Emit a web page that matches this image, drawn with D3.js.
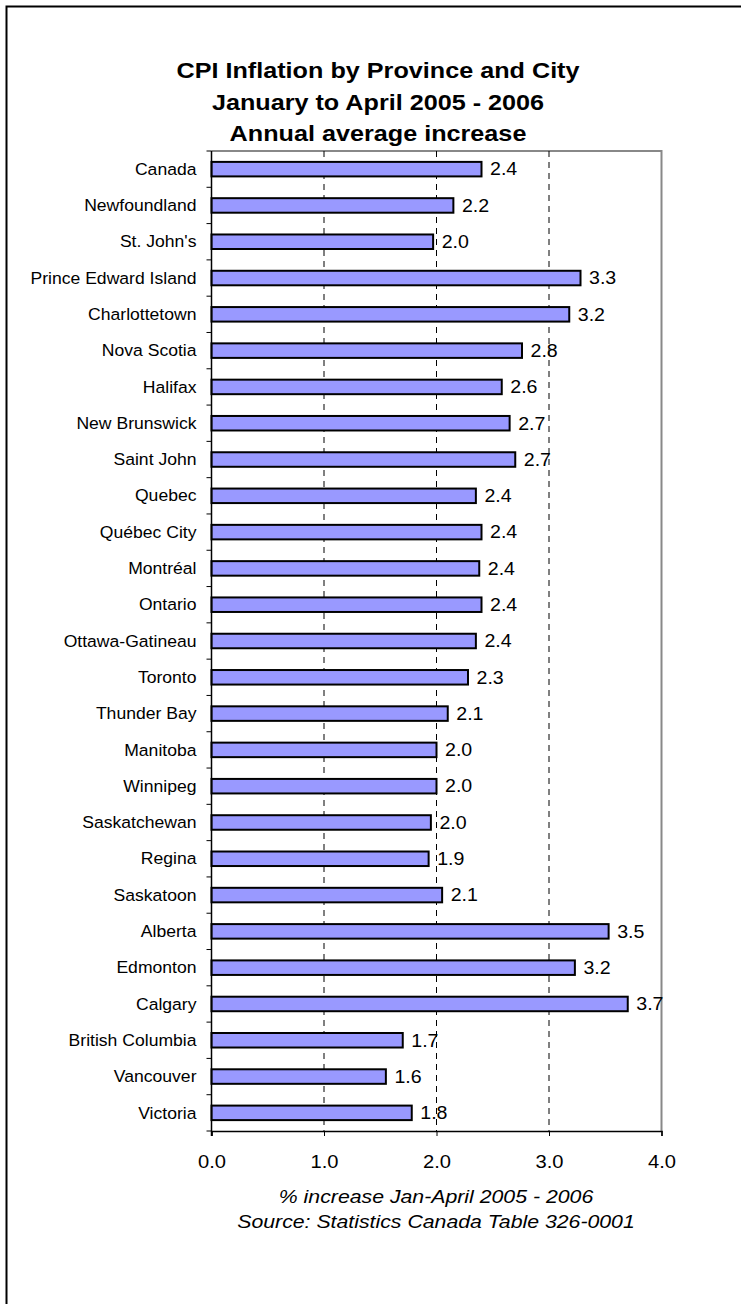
<!DOCTYPE html>
<html>
<head>
<meta charset="utf-8">
<script src="https://cdn.jsdelivr.net/npm/d3@7"></script>
<style>
  html, body { margin: 0; padding: 0; background: #fff; }
  svg { display: block; }
  text { font-family: "Liberation Sans", Arial, sans-serif; fill: #000; }
</style>
</head>
<body>
<svg id="chart" width="741" height="1304"></svg>
<script>
const titleLines = ["CPI Inflation by Province and City", "January to April 2005 - 2006", "Annual average increase"];
const categories = ["Canada", "Newfoundland", "St. John's", "Prince Edward Island", "Charlottetown", "Nova Scotia", "Halifax", "New Brunswick", "Saint John", "Quebec", "Québec City", "Montréal", "Ontario", "Ottawa-Gatineau", "Toronto", "Thunder Bay", "Manitoba", "Winnipeg", "Saskatchewan", "Regina", "Saskatoon", "Alberta", "Edmonton", "Calgary", "British Columbia", "Vancouver", "Victoria"];
const values = [2.40, 2.15, 1.97, 3.28, 3.18, 2.76, 2.58, 2.65, 2.70, 2.35, 2.40, 2.38, 2.40, 2.35, 2.28, 2.10, 2.00, 2.00, 1.95, 1.93, 2.05, 3.53, 3.23, 3.70, 1.70, 1.55, 1.78];
const valueLabels = ["2.4", "2.2", "2.0", "3.3", "3.2", "2.8", "2.6", "2.7", "2.7", "2.4", "2.4", "2.4", "2.4", "2.4", "2.3", "2.1", "2.0", "2.0", "2.0", "1.9", "2.1", "3.5", "3.2", "3.7", "1.7", "1.6", "1.8"];
const xTicks = [0, 1, 2, 3, 4];
const xTickLabels = ["0.0", "1.0", "2.0", "3.0", "4.0"];
const axisTitle = "% increase Jan-April 2005 - 2006";
const sourceNote = "Source: Statistics Canada Table 326-0001";

const SX = 1.12; // horizontal stretch of the glyphs in the reference
const svg = d3.select("#chart");
const plot = { left: 211.5, right: 661.5, top: 151, bottom: 1131 };

function stretched(sel, xf, yf) {
  return sel.attr("transform", (d, i) => `translate(${xf(d, i)},${yf(d, i)}) scale(${SX},1)`);
}

// outer frame (top and left edges visible)
svg.append("path")
  .attr("d", "M6.5,1304 L6.5,6.5 L741,6.5")
  .attr("fill", "none").attr("stroke", "#000").attr("stroke-width", 2);

// title
stretched(svg.append("g").selectAll("text").data(titleLines).join("text"),
    () => 378, (d, i) => 78 + i * 31.5)
  .attr("text-anchor", "middle")
  .style("font-size", "22.5px").style("font-weight", "bold")
  .text(d => d);

const x = d3.scaleLinear().domain([0, 4]).range([plot.left, plot.right]);
const y = d3.scaleBand().domain(categories).range([plot.top, plot.bottom]).paddingInner(0.6).paddingOuter(0.3);
const yBand = d3.scaleBand().domain(categories).range([plot.top, plot.bottom]);

// plot frame (gray top/right)
svg.append("path")
  .attr("d", `M${plot.left},${plot.top} L${plot.right},${plot.top} L${plot.right},${plot.bottom}`)
  .attr("fill", "none").attr("stroke", "#888").attr("stroke-width", 2);

// gridlines
svg.append("g").selectAll("line").data(xTicks.filter(t => t > 0 && t < 4)).join("line")
  .attr("x1", d => x(d)).attr("x2", d => x(d))
  .attr("y1", plot.top).attr("y2", plot.bottom)
  .attr("stroke", "#000").attr("stroke-width", 1).attr("stroke-dasharray", "6,5");

// bars
svg.append("g").selectAll("rect").data(values).join("rect")
  .attr("x", x(0))
  .attr("y", (d, i) => y(categories[i]))
  .attr("width", d => x(d) - x(0))
  .attr("height", y.bandwidth())
  .attr("fill", "#9999ff").attr("stroke", "#000").attr("stroke-width", 2);

// value labels
stretched(svg.append("g").selectAll("text").data(values).join("text"),
    d => x(d) + 8.5, (d, i) => y(categories[i]) + y.bandwidth() / 2)
  .attr("dy", "0.36em")
  .style("font-size", "17.5px")
  .text((d, i) => valueLabels[i]);

// y axis
const yAxisG = svg.append("g").attr("transform", `translate(${plot.left},0)`);
yAxisG.append("line").attr("x1", 0).attr("x2", 0).attr("y1", plot.top).attr("y2", plot.bottom + 5)
  .attr("stroke", "#000").attr("stroke-width", 1.5);
const yTicksPos = categories.map(c => yBand(c)).concat([plot.bottom]);
yAxisG.selectAll("line.tick").data(yTicksPos).join("line").attr("class", "tick")
  .attr("x1", -5).attr("x2", 0).attr("y1", d => d).attr("y2", d => d)
  .attr("stroke", "#000").attr("stroke-width", 1);
stretched(yAxisG.selectAll("text").data(categories).join("text"),
    () => -15, d => yBand(d) + yBand.bandwidth() / 2)
  .attr("dy", "0.36em")
  .attr("text-anchor", "end")
  .style("font-size", "15.7px")
  .text(d => d);

// x axis
const xAxis = d3.axisBottom(x).tickValues(xTicks).tickSize(5).tickPadding(10)
  .tickFormat((d, i) => xTickLabels[i]);
const xAxisG = svg.append("g").attr("transform", `translate(0,${plot.bottom})`).call(xAxis);
xAxisG.select(".domain").attr("stroke", "#000").attr("stroke-width", 1.5);
xAxisG.selectAll(".tick line").attr("stroke", "#000");
xAxisG.selectAll(".tick text")
  .attr("y", null).attr("dy", null)
  .attr("transform", `translate(0,37) scale(${SX},1)`)
  .style("font-size", "18px").style("font-family", "'Liberation Sans', Arial, sans-serif").attr("fill", "#000");

// axis title & source
stretched(svg.append("g").selectAll("text").data([axisTitle, sourceNote]).join("text"),
    () => 436, (d, i) => 1203 + i * 25)
  .attr("text-anchor", "middle")
  .style("font-size", "19px").style("font-style", "italic")
  .text(d => d);
</script>
</body>
</html>
